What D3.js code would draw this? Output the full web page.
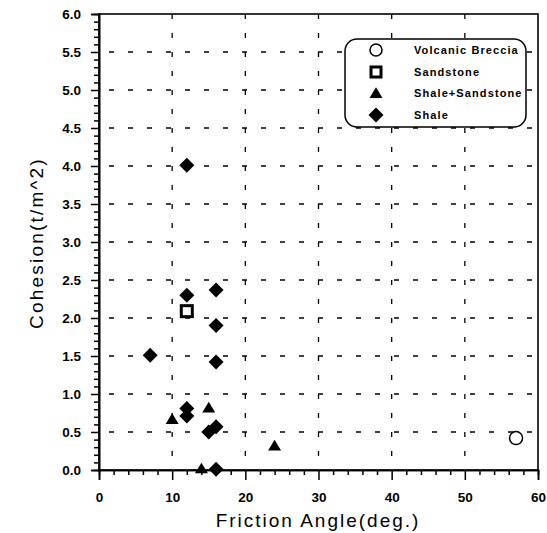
<!DOCTYPE html>
<html><head><meta charset="utf-8">
<script src="https://cdn.jsdelivr.net/npm/d3@7"></script>
<style>body{margin:0;background:#fff}svg{display:block}</style>
</head><body>
<script>
// Data
const xTicks = [0,10,20,30,40,50,60];
const yTicks = [0.0,0.5,1.0,1.5,2.0,2.5,3.0,3.5,4.0,4.5,5.0,5.5,6.0];
const seriesNames = ["Volcanic Breccia","Sandstone","Shale+Sandstone","Shale"];
const volcanicBreccia = [[57,0.42]];
const sandstone = [[12,2.09]];
const shaleSandstone = [[10,0.67],[15,0.82],[14,0.02],[24,0.32]];
const shale = [[12,4.01],[12,2.30],[16,2.37],[16,1.90],[7,1.51],[16,1.42],[12,0.81],[12,0.71],[15,0.50],[16,0.57],[16,0.01]];

const W=547,H=533;
const FONT="Liberation Sans, Arial, sans-serif";
const svg=d3.select("body").append("svg").attr("width",W).attr("height",H);
const x=d3.scaleLinear().domain([0,60]).range([99,538]);
const y=d3.scaleLinear().domain([0,6]).range([470,14]);

// gridlines
const g=svg.append("g");
g.selectAll(".vg").data(xTicks.filter(d=>d>0&&d<60)).enter().append("line")
 .attr("x1",d=>x(d)).attr("x2",d=>x(d)).attr("y1",y(6)).attr("y2",y(0))
 .attr("stroke","#000").attr("stroke-width",1.3).attr("stroke-dasharray","5,14");
g.selectAll(".hg").data(yTicks.filter(d=>d>0&&d<6)).enter().append("line")
 .attr("x1",x(0)).attr("x2",x(60)).attr("y1",d=>y(d)).attr("y2",d=>y(d))
 .attr("stroke","#000").attr("stroke-width",1.3).attr("stroke-dasharray","5,14").attr("stroke-dashoffset",-10);

// frame
svg.append("rect").attr("x",x(0)).attr("y",y(6)).attr("width",x(60)-x(0)).attr("height",y(0)-y(6))
 .attr("fill","none").attr("stroke","#000").attr("stroke-width",1.6);

// axes
const xAxis=d3.axisBottom(x).tickValues(xTicks).tickSize(10).tickPadding(12).tickFormat(d3.format("d"));
svg.append("g").attr("transform",`translate(0,${y(0)})`).call(xAxis);
const xMinor=d3.axisBottom(x).tickValues(d3.range(0,61,2).filter(d=>d%10)).tickSize(5).tickFormat("");
svg.append("g").attr("transform",`translate(0,${y(0)})`).call(xMinor);
const yAxis=d3.axisLeft(y).tickValues(yTicks).tickSize(8).tickPadding(10).tickFormat(d3.format(".1f"));
svg.append("g").attr("transform",`translate(${x(0)},0)`).call(yAxis);
const yMinor=d3.axisLeft(y).tickValues(d3.range(0,61,1).map(d=>d/10).filter((d,i)=>i%5)).tickSize(5).tickFormat("");
svg.append("g").attr("transform",`translate(${x(0)},0)`).call(yMinor);
svg.selectAll(".domain").attr("stroke","#000").attr("stroke-width",1.6);
svg.selectAll(".tick line").attr("stroke","#000").attr("stroke-width",1.5);
svg.selectAll(".tick text").attr("font-family",FONT).attr("font-weight","bold").attr("font-size",13.5).attr("fill","#000");

// axis titles
svg.append("text").attr("x",318).attr("y",527).attr("text-anchor","middle").attr("fill","#000")
 .attr("font-family",FONT).attr("font-size",19).attr("letter-spacing",2)
 .text("Friction Angle(deg.)");
svg.append("text").attr("transform","translate(43,243) rotate(-90)").attr("text-anchor","middle").attr("fill","#000")
 .attr("font-family",FONT).attr("font-size",19).attr("letter-spacing",2.2)
 .text("Cohesion(t/m^2)");

// marks
function diamondPath(s){return `M0,${-s}L${s},0L0,${s}L${-s},0Z`;}
function triPath(s){return `M0,${-s*0.9}L${s},${s*0.75}L${-s},${s*0.75}Z`;}
const pts=svg.append("g");
pts.selectAll(".sh").data(shale).enter().append("path")
 .attr("transform",d=>`translate(${x(d[0])},${y(d[1])})`).attr("d",diamondPath(7.5)).attr("fill","#000");
pts.selectAll(".ss").data(shaleSandstone).enter().append("path")
 .attr("transform",d=>`translate(${x(d[0])},${y(d[1])})`).attr("d",triPath(6.5)).attr("fill","#000");
pts.selectAll(".sd").data(sandstone).enter().append("rect")
 .attr("x",d=>x(d[0])-5.5).attr("y",d=>y(d[1])-5.5).attr("width",11).attr("height",11)
 .attr("fill","#fff").attr("stroke","#000").attr("stroke-width",3);
pts.selectAll(".vb").data(volcanicBreccia).enter().append("circle")
 .attr("cx",d=>x(d[0])).attr("cy",d=>y(d[1])).attr("r",6.5)
 .attr("fill","#fff").attr("stroke","#000").attr("stroke-width",1.5);

// legend
const lg=svg.append("g");
lg.append("rect").attr("x",345).attr("y",39).attr("width",181).attr("height",88).attr("rx",12)
 .attr("fill","#fff").attr("stroke","#000").attr("stroke-width",1.5);
const rowsY=[50,72,93,115];
seriesNames.forEach((n,i)=>{
  const cx=376, cy=rowsY[i];
  if(i===0) lg.append("circle").attr("cx",cx).attr("cy",cy).attr("r",6).attr("fill","#fff").attr("stroke","#000").attr("stroke-width",1.5);
  if(i===1) lg.append("rect").attr("x",cx-5).attr("y",cy-5).attr("width",10).attr("height",10).attr("fill","#fff").attr("stroke","#000").attr("stroke-width",3);
  if(i===2) lg.append("path").attr("transform",`translate(${cx},${cy})`).attr("d",triPath(6.5)).attr("fill","#000");
  if(i===3) lg.append("path").attr("transform",`translate(${cx},${cy})`).attr("d",diamondPath(7.5)).attr("fill","#000");
  lg.append("text").attr("x",414).attr("y",cy+4).attr("font-family",FONT).attr("fill","#000")
   .attr("font-weight","bold").attr("font-size",11).attr("letter-spacing",1.1).text(n);
});
</script>
</body></html>
